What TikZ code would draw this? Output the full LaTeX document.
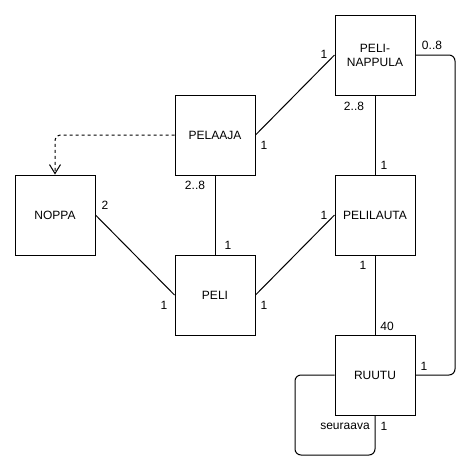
\documentclass[tikz,border=0pt]{standalone}
\usepackage{fontspec}
\setmainfont{Liberation Sans}
\usetikzlibrary{arrows.meta}
\begin{document}
\begin{tikzpicture}[x=1pt,y=-1pt,
  cls/.style={draw,line width=1pt,minimum width=80pt,minimum height=80pt,inner sep=0pt,align=center,font=\fontsize{12}{14}\selectfont},
  conn/.style={draw,line width=1pt},
  lbl/.style={inner sep=0pt,font=\fontsize{12}{14}\selectfont}]
\useasboundingbox (0,0) rectangle (472,472);
\node[cls] (nappula) at (375,55) {PELI-\\NAPPULA};
\node[cls] (pelaaja) at (215,135) {PELAAJA};
\node[cls] (noppa) at (55,215) {NOPPA};
\node[cls] (lauta) at (375,215) {PELILAUTA};
\node[cls] (peli) at (215,295) {PELI};
\node[cls] (ruutu) at (375,375) {RUUTU};
\coordinate (c1) at (455,55);
\coordinate (c2) at (455,375);
\coordinate (c3) at (295,375);
\coordinate (c4) at (295,455);
\coordinate (c5) at (375,455);
\coordinate (c6) at (55,135);
\draw[conn] (pelaaja.east) -- (nappula.west);
\draw[conn,dash pattern=on 3pt off 3pt,rounded corners=5pt,-{Straight Barb[length=9pt,width=11pt,line width=1pt]}] (pelaaja.west) -- (c6) -- (noppa.north);
\draw[conn] (pelaaja.south) -- (peli.north);
\draw[conn] (noppa.east) -- (peli.west);
\draw[conn] (peli.east) -- (lauta.west);
\draw[conn] (nappula.south) -- (lauta.north);
\draw[conn] (lauta.south) -- (ruutu.north);
\draw[conn,rounded corners=6pt] (nappula.east) -- (c1) -- (c2) -- (ruutu.east);
\draw[conn,rounded corners=6pt] (ruutu.west) -- (c3) -- (c4) -- (c5) -- (ruutu.south);
\node[lbl] (l1) at (324,54) {1};
\node[lbl] (l2) at (264,145) {1};
\node[lbl] (l3) at (105,205) {2};
\node[lbl] (l4) at (164,305) {1};
\node[lbl] (l5) at (264,305) {1};
\node[lbl] (l6) at (324,215) {1};
\node[lbl] (l7) at (363,265) {1};
\node[lbl] (l8) at (387,326) {40};
\node[lbl] (l9) at (432,45) {0..8};
\node[lbl] (l10) at (195,185) {2..8};
\node[lbl] (l11) at (228,245) {1};
\node[lbl] (l12) at (354,106) {2..8};
\node[lbl] (l13) at (384,165) {1};
\node[lbl] (l14) at (424,366) {1};
\node[lbl] (l15) at (345,426) {seuraava};
\node[lbl] (l16) at (384,426) {1};
\end{tikzpicture}
\end{document}
